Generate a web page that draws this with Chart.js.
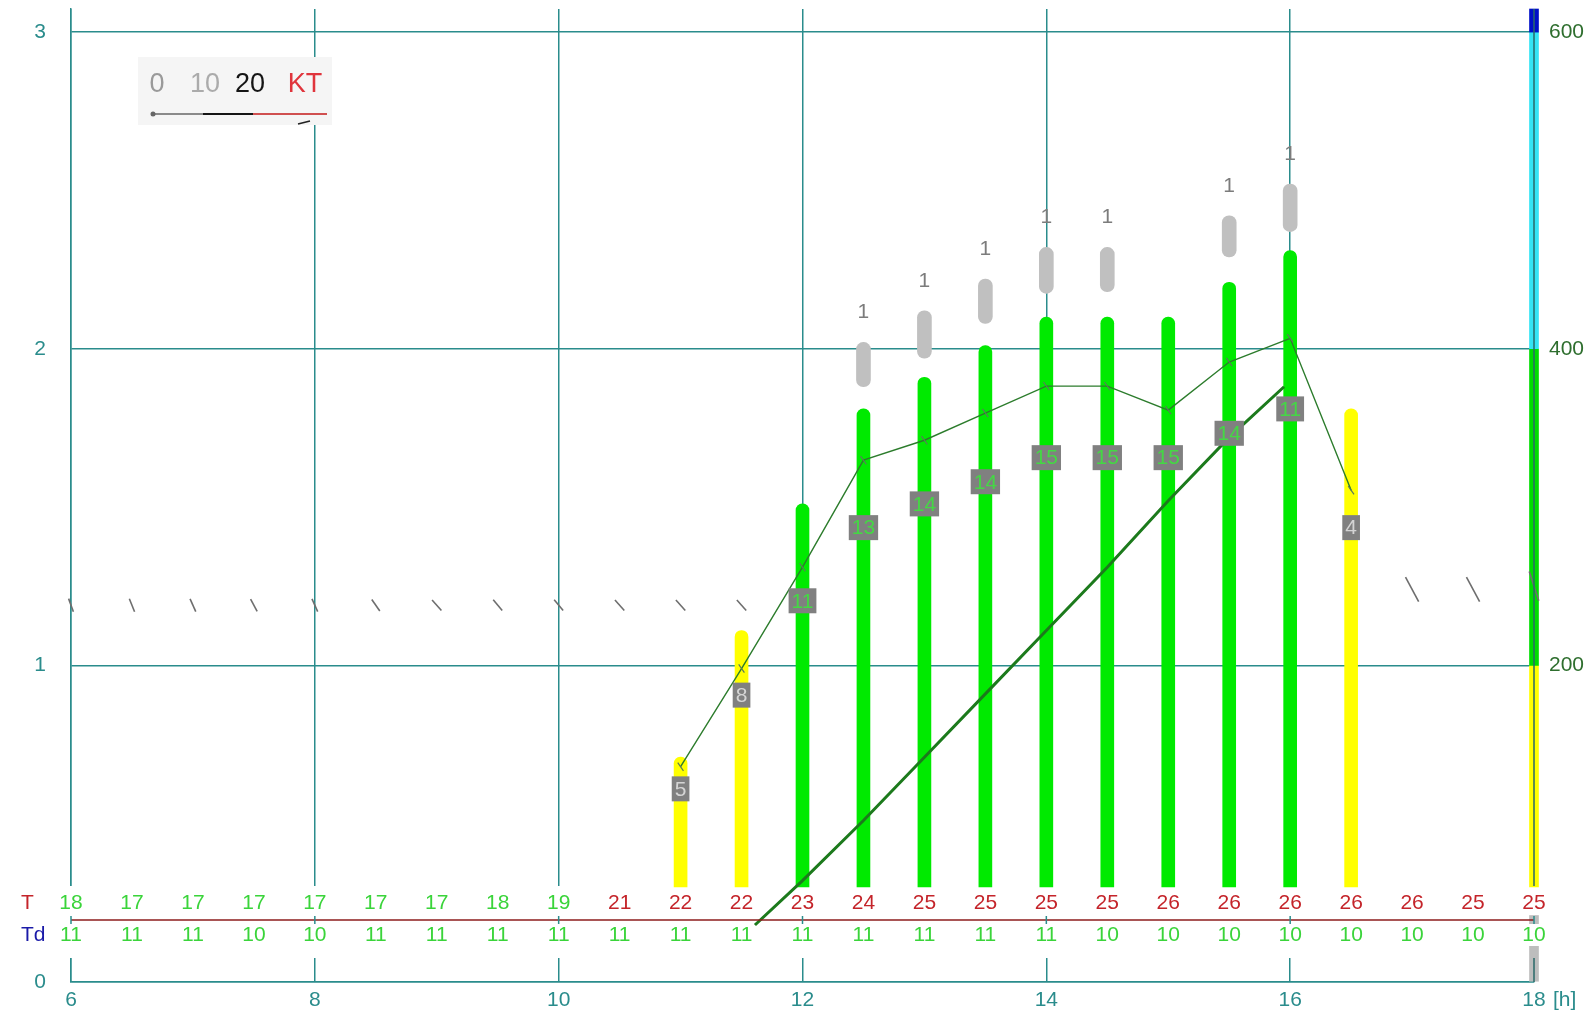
<!DOCTYPE html>
<html>
<head>
<meta charset="utf-8">
<script src="https://cdn.jsdelivr.net/npm/chart.js@4/dist/chart.umd.min.js"></script>
<style>
  html, body { margin: 0; padding: 0; background: #fff; }
  canvas { display: block; }
</style>
</head>
<body>
<canvas id="meteo" width="1591" height="1021"></canvas>
<script>
// time axis (hours) and the T / Td rows
const hours = [6, 6.5, 7, 7.5, 8, 8.5, 9, 9.5, 10, 10.5, 11, 11.5, 12, 12.5, 13, 13.5, 14, 14.5, 15, 15.5, 16, 16.5, 17, 17.5, 18];
const tempT = [18, 17, 17, 17, 17, 17, 17, 18, 19, 21, 22, 22, 23, 24, 25, 25, 25, 25, 26, 26, 26, 26, 26, 25, 25];
const tempTd = [11, 11, 11, 10, 10, 11, 11, 11, 11, 11, 11, 11, 11, 11, 11, 11, 11, 10, 10, 10, 10, 10, 10, 10, 10];
const xTicks = [6, 8, 10, 12, 14, 16, 18];
const leftTicks = [0, 1, 2, 3];
const rightTicks = [200, 400, 600];

// cloud columns
const cloudHours = [11, 11.5, 12, 12.5, 13, 13.5, 14, 14.5, 15, 15.5, 16, 16.5];
const cloudBase = [0.3, 0.3, 0.3, 0.3, 0.3, 0.3, 0.3, 0.3, 0.3, 0.3, 0.3, 0.3];
const cloudTop = [0.71, 1.11, 1.51, 1.81, 1.91, 2.01, 2.10, 2.10, 2.10, 2.21, 2.31, 1.81];
const cloudClass = [1, 1, 2, 2, 2, 2, 2, 2, 2, 2, 2, 1];
const cloudCover = [5, 8, 11, 13, 14, 14, 15, 15, 15, 14, 11, 4];
const cloudCoverLevel = [0.61, 0.906, 1.204, 1.435, 1.51, 1.58, 1.656, 1.656, 1.656, 1.733, 1.81, 1.435];

// upper (grey) layers
const anvilHours = [12.5, 13, 13.5, 14, 14.5, 15.5, 16];
const anvilLow = [1.88, 1.97, 2.08, 2.175, 2.18, 2.29, 2.37];
const anvilHigh = [2.02, 2.12, 2.22, 2.32, 2.32, 2.42, 2.52];
const anvilCount = [1, 1, 1, 1, 1, 1, 1];

// lines
const levelHours = [11, 11.5, 12, 12.5, 13, 13.5, 14, 14.5, 15, 15.5, 16, 16.5];
const levelValue = [0.68, 0.99, 1.31, 1.648, 1.711, 1.797, 1.882, 1.882, 1.806, 1.958, 2.033, 1.553];
const ridgeHours = [11.61, 12, 12.5, 13, 13.5, 14, 14.5, 15, 15.5, 15.95];
const ridgeValue = [0.18, 0.32, 0.51, 0.71, 0.91, 1.11, 1.31, 1.52, 1.72, 1.88];

// wind
const windHours = [6, 6.5, 7, 7.5, 8, 8.5, 9, 9.5, 10, 10.5, 11, 11.5, 17, 17.5, 18];
const windLevel = [1.19, 1.19, 1.19, 1.19, 1.19, 1.19, 1.19, 1.19, 1.19, 1.19, 1.19, 1.19, 1.24, 1.24, 1.25];
const windDir = [70, 68, 66, 62, 66, 55, 48, 50, 50, 48, 48, 48, 62, 62, 72];
const windSpeed = [5, 5, 5, 5, 5, 5, 5, 5, 5, 5, 5, 5, 10, 10, 11];

// colour column at 18h
const scaleLow = [0, 0.3, 1, 2, 3];
const scaleHigh = [0.21, 1, 2, 3, 3.073];

const GRID = '#2a8c8c';
const classColor = { 1: '#ffff00', 2: '#00ea00' };
const scaleColors = ['#bdbdbd', '#ffff00', '#00dd00', '#33e4f4', '#0010c8'];

Chart.defaults.font.family = "'Liberation Sans', Arial, sans-serif";
Chart.defaults.font.size = 21;

const overlay = {
  id: 'overlay',
  beforeDatasetsDraw(chart) {
    const { ctx, chartArea: a } = chart;
    ctx.save();
    ctx.fillStyle = '#fff';
    ctx.fillRect(a.left - 6, a.bottom - 96, a.right - a.left + 12, 72);
    ctx.restore();
  },
  afterDatasetsDraw(chart) {
    const { ctx, chartArea: a, scales } = chart;
    const xs = scales.x, ys = scales.y;
    ctx.save();

    // right frame line through the colour column
    ctx.strokeStyle = '#2a6868';
    ctx.lineWidth = 1.5;
    ctx.beginPath();
    ctx.moveTo(a.right, a.top);
    ctx.lineTo(a.right, a.bottom - 96);
    ctx.moveTo(a.right, a.bottom - 24);
    ctx.lineTo(a.right, a.bottom);
    ctx.stroke();

    // dark red line between T and Td
    const yLine = a.bottom - 62;
    ctx.strokeStyle = '#8c1c1c';
    ctx.lineWidth = 1.6;
    ctx.beginPath();
    ctx.moveTo(a.left, yLine);
    ctx.lineTo(a.right, yLine);
    ctx.stroke();
    ctx.strokeStyle = GRID;
    ctx.lineWidth = 1.5;
    xTicks.forEach(h => {
      const px = xs.getPixelForValue(h);
      ctx.beginPath();
      ctx.moveTo(px, yLine - 4);
      ctx.lineTo(px, yLine + 4);
      ctx.stroke();
    });

    ctx.font = "21px 'Liberation Sans', Arial, sans-serif";
    ctx.textAlign = 'center';
    ctx.textBaseline = 'middle';
    const yT = a.bottom - 79, yTd = a.bottom - 47;
    hours.forEach((h, i) => {
      const px = xs.getPixelForValue(h);
      ctx.fillStyle = tempT[i] < 20 ? '#3ad43a' : '#c4242a';
      ctx.fillText(String(tempT[i]), px, yT);
      const s = String(tempTd[i]);
      const w = ctx.measureText(s).width;
      ctx.fillStyle = '#fff';
      ctx.fillRect(px - w / 2 - 1, yTd - 11, w + 2, 22);
      ctx.fillStyle = '#3ad43a';
      ctx.fillText(s, px, yTd);
    });
    ctx.textAlign = 'left';
    ctx.fillStyle = '#c4242a';
    ctx.fillText('T', 21, yT);
    ctx.fillStyle = '#1a1aa8';
    ctx.fillText('Td', 21, yTd);

    // cover boxes on the columns
    ctx.textAlign = 'center';
    cloudHours.forEach((h, i) => {
      const px = xs.getPixelForValue(h);
      const py = ys.getPixelForValue(cloudCoverLevel[i]);
      const s = String(cloudCover[i]);
      const w = ctx.measureText(s).width + 6;
      ctx.fillStyle = '#808080';
      ctx.fillRect(px - w / 2, py - 12.5, w, 25);
      ctx.fillStyle = cloudClass[i] === 1 ? '#d4d4d4' : '#44d844';
      ctx.fillText(s, px, py + 1);
    });

    // counts above the grey layers
    ctx.fillStyle = '#7c7c7c';
    anvilHours.forEach((h, i) => {
      const px = xs.getPixelForValue(h);
      const py = ys.getPixelForValue(anvilHigh[i]) - 30;
      ctx.fillText(String(anvilCount[i]), px, py);
    });

    // axis unit
    ctx.textAlign = 'left';
    ctx.fillStyle = GRID;
    ctx.fillText('[h]', xs.getPixelForValue(18) + 19, a.bottom + 18);

    // wind scale legend
    ctx.fillStyle = '#f5f5f5';
    ctx.fillRect(138, 57, 194, 68);
    ctx.font = "27px 'Liberation Sans', Arial, sans-serif";
    ctx.textAlign = 'center';
    [['0', '#9a9a9a', 157], ['10', '#ababab', 205], ['20', '#151515', 250], ['KT', '#e0343c', 305]].forEach(([t, c, x]) => {
      ctx.fillStyle = c;
      ctx.fillText(t, x, 85);
    });
    ctx.lineWidth = 2;
    [['#8a8a8a', 153, 203], ['#151515', 203, 253], ['#d05050', 253, 327]].forEach(([c, x0, x1]) => {
      ctx.strokeStyle = c;
      ctx.beginPath();
      ctx.moveTo(x0, 114);
      ctx.lineTo(x1, 114);
      ctx.stroke();
    });
    ctx.fillStyle = '#666';
    ctx.beginPath();
    ctx.arc(153, 114, 2.5, 0, Math.PI * 2);
    ctx.fill();
    ctx.strokeStyle = '#222';
    ctx.lineWidth = 1.5;
    ctx.beginPath();
    ctx.moveTo(298, 124);
    ctx.lineTo(310, 121);
    ctx.stroke();

    ctx.restore();
  }
};

const noPad = s => { s.paddingTop = 0; s.paddingBottom = 0; s.paddingLeft = 0; s.paddingRight = 0; };

const config = {
  type: 'bar',
  data: {
    datasets: [
      {
        label: 'clouds',
        data: cloudHours.map((h, i) => ({ x: h, y: [cloudBase[i], cloudTop[i]] })),
        backgroundColor: cloudClass.map(c => classColor[c]),
        barThickness: 13,
        grouped: false,
        borderSkipped: false,
        borderRadius: { topLeft: 6.5, topRight: 6.5, bottomLeft: 0, bottomRight: 0 },
        order: 3
      },
      {
        label: 'upper',
        data: anvilHours.map((h, i) => ({ x: h, y: [anvilLow[i], anvilHigh[i]] })),
        backgroundColor: '#c0c0c0',
        barThickness: 14,
        grouped: false,
        borderSkipped: false,
        borderRadius: 7,
        order: 3
      },
      {
        label: 'scale',
        data: scaleLow.map((v, i) => ({ x: 18, y: [v, scaleHigh[i]] })),
        backgroundColor: scaleColors,
        barThickness: 9,
        grouped: false,
        clip: false,
        order: 3
      },
      {
        type: 'line',
        label: 'level',
        data: levelHours.map((h, i) => ({ x: h, y: levelValue[i] })),
        borderColor: '#2c7c2c',
        borderWidth: 1.4,
        pointStyle: 'line',
        pointRotation: 55,
        pointRadius: 5,
        pointBorderColor: '#5a7a5a',
        pointBorderWidth: 1.2,
        tension: 0,
        order: 1
      },
      {
        type: 'line',
        label: 'ridge',
        data: ridgeHours.map((h, i) => ({ x: h, y: ridgeValue[i] })),
        borderColor: '#1c7a1c',
        borderWidth: 3,
        pointRadius: 0,
        tension: 0,
        clip: false,
        order: 1
      },
      {
        type: 'scatter',
        label: 'wind',
        data: windHours.map((h, i) => ({ x: h, y: windLevel[i] })),
        pointStyle: 'line',
        rotation: windDir,
        radius: windSpeed.map(s => s * 1.4),
        borderColor: '#6e6e6e',
        borderWidth: 1.6,
        clip: false,
        order: 0
      }
    ]
  },
  options: {
    responsive: false,
    animation: false,
    events: [],
    layout: { autoPadding: false, padding: { top: 9, left: 0, right: 0, bottom: 0 } },
    plugins: {
      legend: { display: false },
      tooltip: { enabled: false }
    },
    scales: {
      x: {
        type: 'linear',
        min: 6,
        max: 18,
        offset: false,
        afterFit: s => { s.height = 39; noPad(s); },
        afterBuildTicks: s => { s.ticks = xTicks.map(v => ({ value: v })); },
        grid: { color: GRID, lineWidth: 1.5, drawTicks: false, offset: false },
        border: { color: GRID, width: 1.5 },
        ticks: { color: GRID, padding: 6, maxRotation: 0, autoSkip: false }
      },
      y: {
        position: 'left',
        min: 0,
        max: 3.073,
        afterFit: s => { s.width = 71; noPad(s); },
        afterBuildTicks: s => { s.ticks = leftTicks.map(v => ({ value: v })); },
        grid: { color: GRID, lineWidth: 1.5, drawTicks: false },
        border: { color: GRID, width: 1.5 },
        ticks: { color: GRID, padding: 25 }
      },
      y1: {
        position: 'right',
        min: 0,
        max: 614.6,
        afterFit: s => { s.width = 57; noPad(s); },
        afterBuildTicks: s => { s.ticks = rightTicks.map(v => ({ value: v })); },
        grid: { drawOnChartArea: false, drawTicks: false },
        border: { display: false },
        ticks: { color: '#2e6e2e', padding: 15 }
      }
    }
  },
  plugins: [overlay]
};

new Chart(document.getElementById('meteo'), config);
</script>
</body>
</html>
